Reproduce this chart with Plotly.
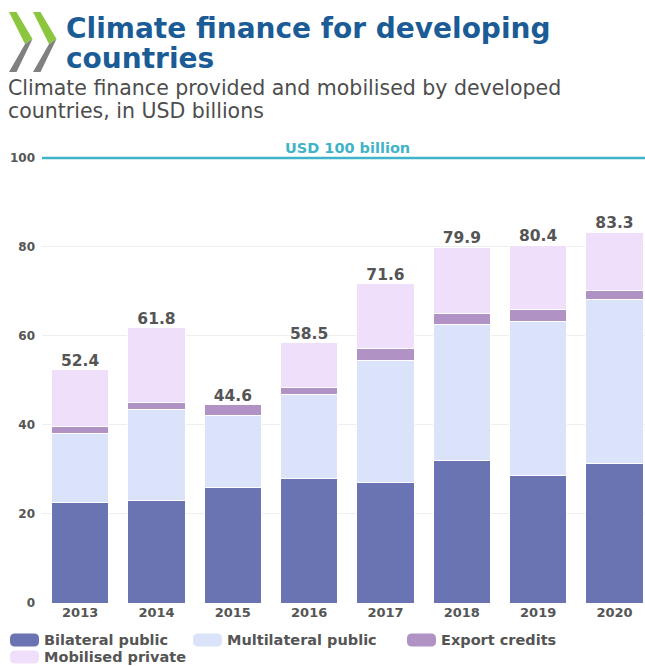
import plotly.graph_objects as go

years = ["2013", "2014", "2015", "2016", "2017", "2018", "2019", "2020"]
bilateral = [22.5, 23.1, 25.9, 28.0, 27.0, 32.0, 28.7, 31.4]
multilateral = [15.5, 20.4, 16.2, 18.9, 27.4, 30.5, 34.6, 36.9]
export_credits = [1.6, 1.6, 2.5, 1.5, 2.8, 2.6, 2.6, 1.9]
mobilised = [12.8, 16.7, None, 10.1, 14.5, 14.7, 14.4, 13.1]
totals = [52.4, 61.8, 44.6, 58.5, 71.6, 79.9, 80.4, 83.3]
yticks = [0, 20, 40, 60, 80, 100]
series_names = ["Bilateral public", "Multilateral public", "Export credits", "Mobilised private"]
series_colors = ["#6b74b2", "#dbe3fb", "#b092c5", "#efdffa"]

W, H = 645, 666
L, R, T, B = 42, 0, 149, 63
PW, PH = W - L - R, H - T - B


def px(x):
    return (x - L) / PW


def py(y):
    return (H - B - y) / PH


FONT = "DejaVu Sans"
GRAY = "#555555"
TEAL = "#41b3c9"

fig = go.Figure()
for name, vals, col in zip(series_names, [bilateral, multilateral, export_credits, mobilised], series_colors):
    fig.add_trace(go.Bar(
        x=years, y=vals, name=name, showlegend=False,
        marker=dict(color=col, line=dict(color="white", width=1)),
        hoverinfo="skip",
    ))

fig.add_trace(go.Scatter(
    x=years, y=totals, mode="text", text=[f"{v:.1f}" for v in totals],
    textposition="top center", showlegend=False, hoverinfo="skip",
    textfont=dict(family=FONT, size=15.5, color=GRAY, weight=600),
    cliponaxis=False,
))

shapes = [
    dict(type="line", xref="paper", yref="y", x0=0, x1=1, y0=100, y1=100,
         line=dict(color=TEAL, width=2.5)),
]
# logo chevrons
for x0 in (9, 33):
    th = 7.5
    green = f"M{px(x0)},{py(12)} L{px(x0+th)},{py(12)} L{px(x0+th+16)},{py(39)} L{px(x0+16)},{py(44)} Z"
    grayp = f"M{px(x0+16)},{py(44)} L{px(x0+th+16)},{py(39)} L{px(x0+th)},{py(72)} L{px(x0)},{py(72)} Z"
    shapes.append(dict(type="path", xref="paper", yref="paper", path=green,
                       fillcolor="#8cc63f", line=dict(width=0)))
    shapes.append(dict(type="path", xref="paper", yref="paper", path=grayp,
                       fillcolor="#808080", line=dict(width=0)))


def rounded_rect(x0, y0, x1, y1, r):
    return (f"M{px(x0+r)},{py(y0)} L{px(x1-r)},{py(y0)} Q{px(x1)},{py(y0)} {px(x1)},{py(y0+r)} "
            f"L{px(x1)},{py(y1-r)} Q{px(x1)},{py(y1)} {px(x1-r)},{py(y1)} "
            f"L{px(x0+r)},{py(y1)} Q{px(x0)},{py(y1)} {px(x0)},{py(y1-r)} "
            f"L{px(x0)},{py(y0+r)} Q{px(x0)},{py(y0)} {px(x0+r)},{py(y0)} Z")


annotations = [
    dict(text="Climate finance for developing", xref="paper", yref="paper",
         x=px(64), y=py(29), xanchor="left", yanchor="middle", showarrow=False,
         font=dict(family=FONT, size=28, color="#1b5c96", weight=700)),
    dict(text="countries", xref="paper", yref="paper",
         x=px(64), y=py(58), xanchor="left", yanchor="middle", showarrow=False,
         font=dict(family=FONT, size=28, color="#1b5c96", weight=700)),
    dict(text="Climate finance provided and mobilised by developed", xref="paper", yref="paper",
         x=px(6), y=py(87.5), xanchor="left", yanchor="middle", showarrow=False,
         font=dict(family=FONT, size=20.5, color="#4d4d4d")),
    dict(text="countries, in USD billions", xref="paper", yref="paper",
         x=px(6), y=py(111.5), xanchor="left", yanchor="middle", showarrow=False,
         font=dict(family=FONT, size=20.5, color="#4d4d4d")),
    dict(text="USD 100 billion", xref="paper", yref="y",
         x=px(347), y=100, xanchor="center", yanchor="bottom", yshift=0, showarrow=False,
         font=dict(family=FONT, size=14.5, color=TEAL, weight=700)),
]

# legend (swatches + labels)
legend_pos = [(10, 640), (193, 640), (407, 640), (10, 657)]
for (lx, ly), name, col in zip(legend_pos, series_names, series_colors):
    shapes.append(dict(type="path", xref="paper", yref="paper",
                       path=rounded_rect(lx, ly - 6.5, lx + 29, ly + 6.5, 5),
                       fillcolor=col, line=dict(width=0)))
    annotations.append(dict(text=name, xref="paper", yref="paper",
                            x=px(lx + 32), y=py(ly), xanchor="left", yanchor="middle",
                            showarrow=False,
                            font=dict(family=FONT, size=14.5, color=GRAY, weight=600)))

fig.update_layout(
    width=W, height=H,
    margin=dict(l=L, r=R, t=T, b=B, pad=0),
    paper_bgcolor="white", plot_bgcolor="white",
    barmode="stack", bargap=0.25,
    font=dict(family=FONT, color=GRAY),
    shapes=shapes, annotations=annotations,
    showlegend=False,
    xaxis=dict(
        type="category", range=[-0.5, 7.4], showgrid=False, showline=False,
        zeroline=False, ticks="", tickfont=dict(family=FONT, size=13, color=GRAY, weight=600),
        ticklabelstandoff=0,
    ),
    yaxis=dict(
        range=[0, 102], tickvals=yticks, showgrid=True, gridcolor="#eeeeee",
        gridwidth=1, zeroline=False, showline=False, ticks="",
        tickfont=dict(family=FONT, size=12, color=GRAY, weight=600),
        ticklabelstandoff=6,
    ),
)

fig.write_html("out.html")
